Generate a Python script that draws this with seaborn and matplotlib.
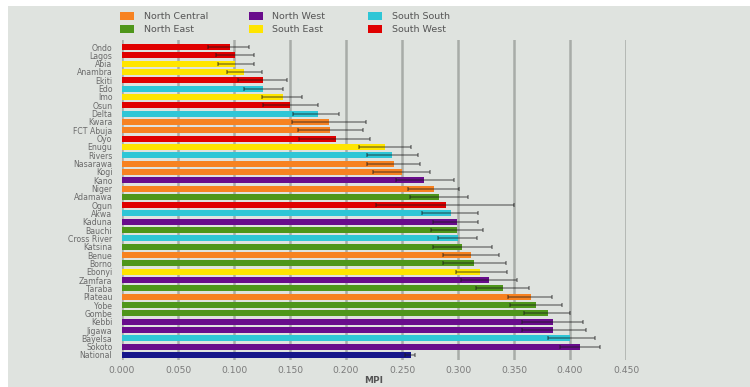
import matplotlib
matplotlib.use("Agg")
import matplotlib.pyplot as plt
import seaborn as sns
import pandas as pd
from matplotlib.patches import Patch

states = ["Ondo", "Lagos", "Abia", "Anambra", "Ekiti", "Edo", "Imo", "Osun", "Delta", "Kwara",
          "FCT Abuja", "Oyo", "Enugu", "Rivers", "Nasarawa", "Kogi", "Kano", "Niger", "Adamawa",
          "Ogun", "Akwa", "Kaduna", "Bauchi", "Cross River", "Katsina", "Benue", "Borno", "Ebonyi",
          "Zamfara", "Taraba", "Plateau", "Yobe", "Gombe", "Kebbi", "Jigawa", "Bayelsa", "Sokoto",
          "National"]
regions = ["South West", "South West", "South East", "South East", "South West", "South South",
           "South East", "South West", "South South", "North Central", "North Central", "South West",
           "South East", "South South", "North Central", "North Central", "North West", "North Central",
           "North East", "South West", "South South", "North West", "North East", "South South",
           "North East", "North Central", "North East", "South East", "North West", "North East",
           "North Central", "North East", "North East", "North West", "North West", "South South",
           "North West", "National"]
mpi = [0.096, 0.101, 0.101, 0.109, 0.126, 0.126, 0.144, 0.150, 0.175, 0.185,
       0.186, 0.191, 0.235, 0.241, 0.243, 0.250, 0.270, 0.279, 0.283,
       0.289, 0.294, 0.299, 0.299, 0.300, 0.304, 0.312, 0.314, 0.320,
       0.328, 0.340, 0.365, 0.370, 0.380, 0.385, 0.385, 0.400, 0.409,
       0.258]
ci_low = [0.077, 0.084, 0.086, 0.094, 0.104, 0.109, 0.125, 0.126, 0.153, 0.152,
          0.157, 0.158, 0.212, 0.219, 0.219, 0.224, 0.245, 0.255, 0.257,
          0.227, 0.268, 0.278, 0.276, 0.282, 0.278, 0.287, 0.287, 0.298,
          0.303, 0.316, 0.345, 0.346, 0.359, 0.357, 0.357, 0.380, 0.391,
          0.253]
ci_high = [0.113, 0.118, 0.118, 0.125, 0.147, 0.144, 0.161, 0.175, 0.194, 0.218,
           0.215, 0.221, 0.258, 0.264, 0.266, 0.275, 0.296, 0.301, 0.309,
           0.350, 0.318, 0.318, 0.322, 0.317, 0.330, 0.337, 0.343, 0.344,
           0.353, 0.363, 0.384, 0.393, 0.400, 0.412, 0.414, 0.422, 0.427,
           0.262]
x_ticks = [0.0, 0.05, 0.10, 0.15, 0.20, 0.25, 0.30, 0.35, 0.40, 0.45]

legend_order = ["North Central", "North East", "North West", "South East", "South South", "South West"]
palette = {"North Central": "#F78221", "North East": "#4E961A", "North West": "#690C8C",
           "South East": "#FFE500", "South South": "#2EC6D6", "South West": "#E00000",
           "National": "#16168A"}

df = pd.DataFrame({"state": states, "region": regions, "mpi": mpi,
                   "lo": ci_low, "hi": ci_high})

bg = "#DFE3DF"
fig = plt.figure(figsize=(7.5, 3.87), dpi=100, facecolor=bg)
# white strips along the top and left edges
fig.patches.append(plt.Rectangle((0, 1 - 6 / 387), 1, 6 / 387, transform=fig.transFigure,
                                 facecolor="white", edgecolor="none", zorder=-10))
fig.patches.append(plt.Rectangle((0, 0), 8 / 750, 1, transform=fig.transFigure,
                                 facecolor="white", edgecolor="none", zorder=-10))
ax = fig.add_axes([122 / 750, 27 / 387, 504 / 750, 320 / 387])
ax.set_facecolor(bg)

for xv in x_ticks:
    ax.axvline(xv, color="#A8ACA8", lw=1.8, zorder=0)

sns.barplot(data=df, x="mpi", y="state", hue="region", palette=palette, dodge=False,
            orient="h", width=0.72, saturation=1, ax=ax, legend=False, zorder=2)

ypos = list(range(len(states)))
ax.errorbar(df["mpi"], ypos,
            xerr=[df["mpi"] - df["lo"], df["hi"] - df["mpi"]],
            fmt="none", ecolor=(0.1, 0.1, 0.1, 0.5), elinewidth=1.1, capsize=1.6,
            capthick=1.1, zorder=3)

ax.set_xlim(0, 0.45)
ax.set_ylim(37 + 5 / 8.32, -7 / 8.32)
ax.set_xticks(x_ticks)
ax.set_xticklabels([f"{v:.3f}" for v in x_ticks])
ax.tick_params(axis="x", length=0, pad=4, labelsize=6.6, labelcolor="#7A7A7A")
ax.tick_params(axis="y", length=0, pad=7, labelsize=5.6, labelcolor="#6A6A6A")
ax.set_ylabel("")
ax.set_xlabel("MPI", fontsize=6.5, fontweight="bold", color="#555555", labelpad=1)
for s in ax.spines.values():
    s.set_visible(False)
ax.grid(False)

# legend in three columns
col_x = [118 / 750, 247 / 750, 366 / 750]
for i in range(3):
    names = legend_order[2 * i:2 * i + 2]
    handles = [Patch(facecolor=palette[n], edgecolor="none", label=n) for n in names]
    fig.legend(handles=handles, loc="upper left", bbox_to_anchor=(col_x[i], 1 - 10 / 387),
               frameon=False, fontsize=6.8, labelcolor="#555555", handlelength=1.5,
               handleheight=0.9, handletextpad=1.0, labelspacing=0.45, borderaxespad=0,
               borderpad=0.2)

fig.savefig("out.png", dpi=100, facecolor=bg)
